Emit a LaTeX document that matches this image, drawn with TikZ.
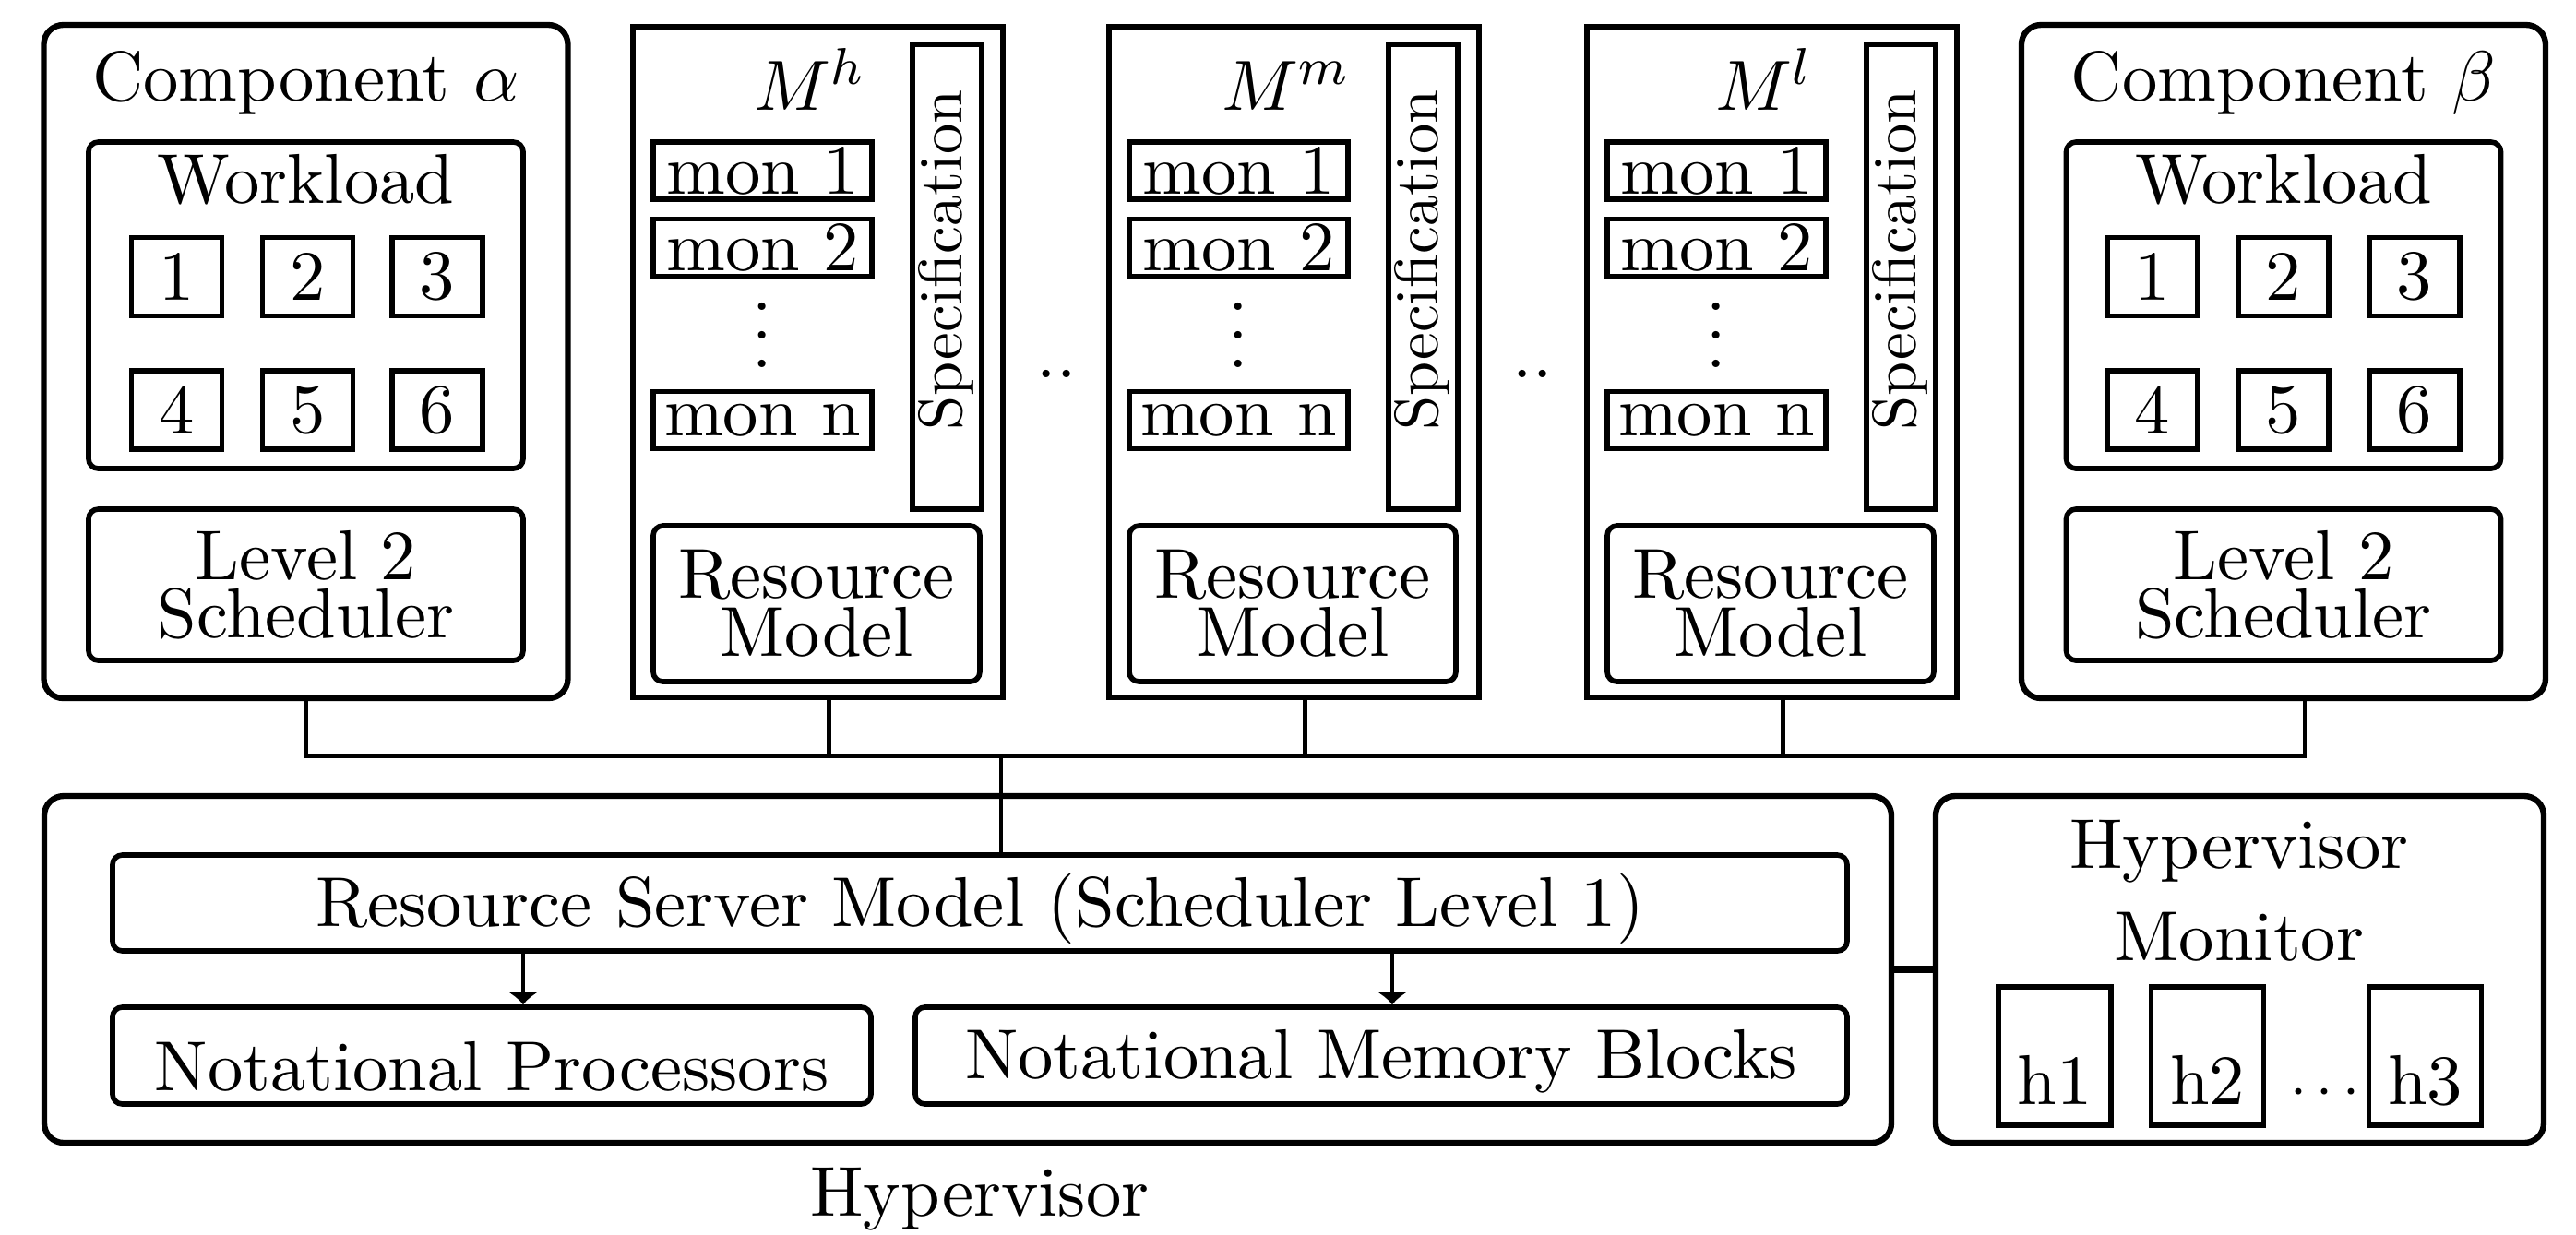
\documentclass[tikz,border=0pt]{standalone}
\usepackage{tikz}
\usetikzlibrary{arrows.meta}
\newcommand{\mondots}{\vbox{\baselineskip4.4pt\lineskiplimit0pt\hbox{.}\hbox{.}\hbox{.}}}
\tikzset{box/.style={draw,line width=0.9pt,inner sep=0pt}}
\tikzset{comp/.style={box,rounded corners=3pt,minimum width=2.84cm,minimum height=3.65cm}}
\tikzset{modl/.style={box,minimum width=2.005cm,minimum height=3.635cm}}
\tikzset{blk/.style={draw,line width=0.8pt,rounded corners=1.5pt,inner sep=0pt,align=center}}
\tikzset{sq/.style={draw,line width=0.8pt,inner sep=0pt}}
\tikzset{wl/.style={sq,minimum width=0.49cm,minimum height=0.425cm}}
\tikzset{mon/.style={sq,minimum width=1.185cm,minimum height=0.31cm}}
\tikzset{spec/.style={sq,minimum width=0.375cm,minimum height=2.52cm}}
\tikzset{hbox/.style={sq,minimum width=0.61cm,minimum height=0.75cm,text height=15pt,text depth=0pt}}
\tikzset{lab/.style={anchor=base,inner sep=0pt}}
\tikzset{wire/.style={line width=0.6pt}}

\begin{document}
\begin{tikzpicture}[font=\fontsize{10.9}{9}\selectfont]
    \useasboundingbox (0,0) rectangle (13.96,-6.69);

    %Component alpha
    \node[comp] (ca) at (1.6575,-1.96) {};
    \node[lab] (calab) at (1.6575,-0.545) {Component $\alpha$};
    \node[blk,minimum width=2.355cm,minimum height=1.77cm] (wa) at (1.6575,-1.655) {};
    \node[lab] (walab) at (1.6575,-1.10) {Workload};
    \node[wl] (a1) at (0.9575,-1.5) {1};
    \node[wl] (a2) at (1.6675,-1.5) {2};
    \node[wl] (a3) at (2.37,-1.5) {3};
    \node[wl] (a4) at (0.9575,-2.2225) {4};
    \node[wl] (a5) at (1.6675,-2.2225) {5};
    \node[wl] (a6) at (2.37,-2.2225) {6};
    \node[blk,minimum width=2.355cm,minimum height=0.82cm] (sa) at (1.6575,-3.17) {Level 2\\Scheduler};

    %M^h
    \node[modl] (mh) at (4.4325,-1.9625) {};
    \node[lab] (mhlab) at (4.39,-0.595) {$M^h$};
    \node[mon] (mh1) at (4.1325,-0.925) {mon 1};
    \node[mon] (mh2) at (4.1325,-1.3425) {mon 2};
    \node[inner sep=0pt] (mhdots) at (4.1325,-1.815) {\mondots};
    \node[mon] (mhn) at (4.1325,-2.2775) {mon n};
    \node[spec] (sph) at (5.1325,-1.5) {};
    \node[rotate=90,inner sep=0pt,font=\fontsize{9.5}{9}\selectfont] (sphlab) at (5.125,-1.41) {Specification};
    \node[blk,minimum width=1.77cm,minimum height=0.845cm] (rmh) at (4.425,-3.2725) {Resource\\Model};

    \node[lab] (dots1) at (5.725,-2.045) {..};

    %M^m
    \node[modl] (mm) at (7.0125,-1.9625) {};
    \node[lab] (mmlab) at (6.97,-0.595) {$M^m$};
    \node[mon] (mm1) at (6.7125,-0.925) {mon 1};
    \node[mon] (mm2) at (6.7125,-1.3425) {mon 2};
    \node[inner sep=0pt] (mmdots) at (6.7125,-1.815) {\mondots};
    \node[mon] (mmn) at (6.7125,-2.2775) {mon n};
    \node[spec] (spm) at (7.7125,-1.5) {};
    \node[rotate=90,inner sep=0pt,font=\fontsize{9.5}{9}\selectfont] (spmlab) at (7.705,-1.41) {Specification};
    \node[blk,minimum width=1.77cm,minimum height=0.845cm] (rmm) at (7.005,-3.2725) {Resource\\Model};

    \node[lab] (dots2) at (8.305,-2.045) {..};

    %M^l
    \node[modl] (ml) at (9.6025,-1.9625) {};
    \node[lab] (mllab) at (9.56,-0.595) {$M^l$};
    \node[mon] (ml1) at (9.3025,-0.925) {mon 1};
    \node[mon] (ml2) at (9.3025,-1.3425) {mon 2};
    \node[inner sep=0pt] (mldots) at (9.3025,-1.815) {\mondots};
    \node[mon] (mln) at (9.3025,-2.2775) {mon n};
    \node[spec] (spl) at (10.3025,-1.5) {};
    \node[rotate=90,inner sep=0pt,font=\fontsize{9.5}{9}\selectfont] (spllab) at (10.295,-1.41) {Specification};
    \node[blk,minimum width=1.77cm,minimum height=0.845cm] (rml) at (9.595,-3.2725) {Resource\\Model};

    %Component beta
    \node[comp] (cb) at (12.375,-1.96) {};
    \node[lab] (cblab) at (12.375,-0.545) {Component $\beta$};
    \node[blk,minimum width=2.355cm,minimum height=1.77cm] (wb) at (12.375,-1.655) {};
    \node[lab] (wblab) at (12.375,-1.10) {Workload};
    \node[wl] (b1) at (11.665,-1.5) {1};
    \node[wl] (b2) at (12.375,-1.5) {2};
    \node[wl] (b3) at (13.085,-1.5) {3};
    \node[wl] (b4) at (11.665,-2.2225) {4};
    \node[wl] (b5) at (12.375,-2.2225) {5};
    \node[wl] (b6) at (13.085,-2.2225) {6};
    \node[blk,minimum width=2.355cm,minimum height=0.82cm] (sb) at (12.375,-3.17) {Level 2\\Scheduler};

    %Hypervisor
    \node[box,rounded corners=3pt,minimum width=10.01cm,minimum height=1.88cm] (hyp) at (5.245,-5.255) {};
    \node[blk,minimum width=9.4cm,minimum height=0.52cm,text height=7.3pt,text depth=0pt] (rsm) at (5.31,-4.895) {Resource Server Model (Scheduler Level 1)};
    \node[blk,minimum width=4.11cm,minimum height=0.525cm,text height=10.8pt,text depth=0pt] (np) at (2.665,-5.7225) {Notational Processors};
    \node[blk,minimum width=5.05cm,minimum height=0.525cm,text height=7pt,text depth=0pt] (nmb) at (7.485,-5.7225) {Notational Memory Blocks};
    \node[lab] (hyplab) at (5.31,-6.59) {Hypervisor};

    %Hypervisor monitor
    \node[box,rounded corners=3pt,minimum width=3.295cm,minimum height=1.88cm] (hm) at (12.1375,-5.255) {};
    \node[align=center,inner sep=0pt] (hmlab) at (12.135,-4.83) {Hypervisor\\[3.5pt]Monitor};
    \node[hbox] (h1) at (11.135,-5.725) {h1};
    \node[hbox] (h2) at (11.9625,-5.725) {h2};
    \node[inner sep=0pt,font=\fontsize{9}{9}\selectfont] (hdots) at (12.6,-5.925) {$\cdots$};
    \node[hbox] (h3) at (13.1425,-5.725) {h3};

    %bus
    \coordinate (hub) at (5.425,-4.10);
    \coordinate (busr) at (12.49,-4.10);
    \coordinate (mhb) at (4.4925,-3.78);
    \coordinate (mmb) at (7.0725,-3.78);
    \coordinate (mlb) at (9.6625,-3.78);
    \draw[wire] (ca.south) |- (busr) -- (busr |- cb.south);
    \draw[wire] (mhb) -- (mhb |- hub);
    \draw[wire] (mmb) -- (mmb |- hub);
    \draw[wire] (mlb) -- (mlb |- hub);
    \draw[wire] (hub) -- (rsm.north -| hub);

    %arrows
    \coordinate (pa) at (2.835,-5.2);
    \coordinate (ma) at (7.545,-5.2);
    \draw[wire,-{Latex[length=2pt,width=5pt]}] (rsm.south -| pa) -- (np.north -| pa);
    \draw[wire,-{Latex[length=2pt,width=5pt]}] (rsm.south -| ma) -- (nmb.north -| ma);

    \draw[line width=1.1pt] (hyp.east) -- (hm.west);
\end{tikzpicture}
\end{document}
